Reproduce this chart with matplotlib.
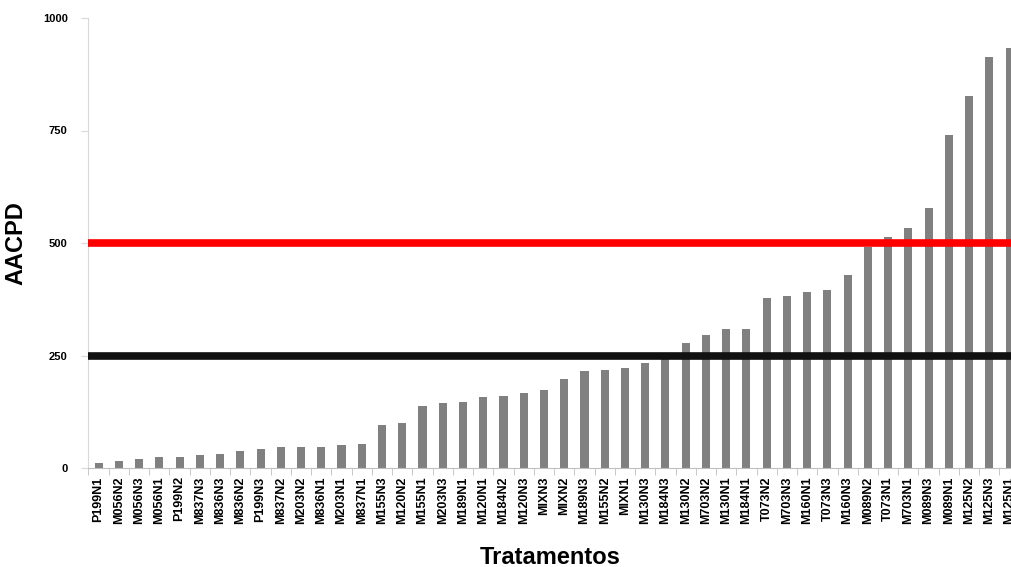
import matplotlib
matplotlib.use("Agg")
import matplotlib.pyplot as plt
import numpy as np

tratamentos = ["P199N1", "M056N2", "M056N3", "M056N1", "P199N2", "M837N3",
               "M836N3", "M836N2", "P199N3", "M837N2", "M203N2", "M836N1",
               "M203N1", "M837N1", "M155N3", "M120N2", "M155N1", "M203N3",
               "M189N1", "M120N1", "M184N2", "M120N3", "MIXN3", "MIXN2",
               "M189N3", "M155N2", "MIXN1", "M130N3", "M184N3", "M130N2",
               "M703N2", "M130N1", "M184N1", "T073N2", "M703N3", "M160N1",
               "T073N3", "M160N3", "M089N2", "T073N1", "M703N1", "M089N3",
               "M089N1", "M125N2", "M125N3", "M125N1"]
aacpd = [12, 15, 21, 24, 25, 30, 32, 38, 42, 46, 47, 47, 51, 53, 96, 99,
         137, 144, 146, 157, 160, 166, 174, 198, 216, 218, 222, 233, 245,
         277, 295, 309, 309, 378, 383, 391, 396, 430, 492, 514, 533, 577,
         740, 826, 913, 933]
limites = [250, 500]
cores_limites = ["#111111", "#ff0000"]

plt.rcParams['font.family'] = ['Liberation Sans', 'DejaVu Sans']

fig = plt.figure(figsize=(10.12, 5.67), dpi=100)
ax = fig.add_axes([88.5 / 1012, 1 - 468 / 567, 1 - 88.5 / 1012, 450 / 567])

x = np.arange(len(tratamentos))
ax.bar(x, aacpd, width=0.4, color="#808080", zorder=2)

for v, c in zip(limites, cores_limites):
    ax.axhline(v, color=c, linewidth=5.5, zorder=3)

ax.set_yticks([0, 250, 500, 750, 1000])
ax.set_yticklabels(["0", "250", "500", "750", "1000"], fontsize=8, fontweight="bold")

ax.set_xticks(x)
ax.set_xticklabels(tratamentos, rotation=90, fontsize=9, fontweight="bold")
ax.set_xticks(np.arange(-0.5, len(tratamentos) - 1, 1), minor=True)
ax.tick_params(axis="x", which="major", length=0, pad=6)
ax.tick_params(axis="x", which="minor", length=5, color="#bfbfbf")
ax.tick_params(axis="y", length=5, color="#d9d9d9", pad=10)

# limits after the ticks, so set_xticks does not widen them
ax.set_xlim(-0.5, 45.12)
ax.set_ylim(0, 1000)

for s in ["top", "right"]:
    ax.spines[s].set_visible(False)
ax.spines["left"].set_color("#d9d9d9")
ax.spines["bottom"].set_color("#bfbfbf")

ax.set_ylabel("AACPD", fontsize=17, fontweight="bold")
ax.yaxis.set_label_coords(-0.066, 0.5)
ax.set_xlabel("Tratamentos", fontsize=17, fontweight="bold", labelpad=16)

fig.savefig("out.png", dpi=100)
